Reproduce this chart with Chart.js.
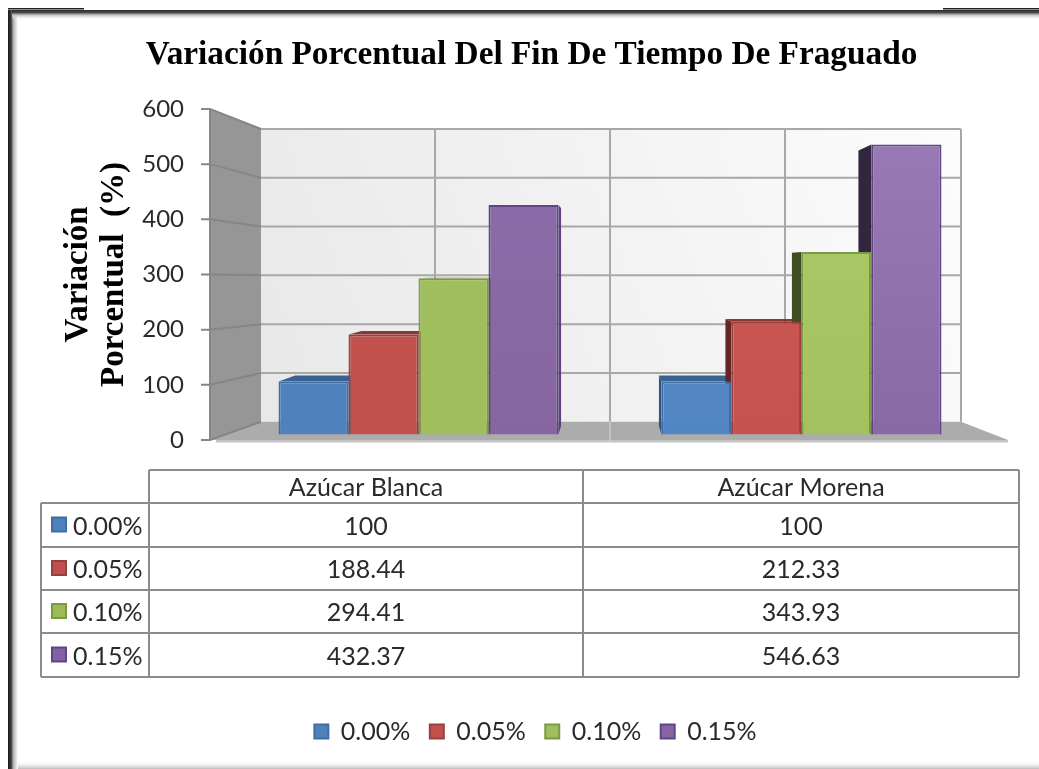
<!DOCTYPE html>
<html><head><meta charset="utf-8">
<style>html,body{margin:0;padding:0;background:#fff}canvas{display:block}</style>
<script src="https://cdn.jsdelivr.net/npm/chart.js@4"></script>
</head><body><canvas id="c" width="1039" height="769"></canvas>
<script>
const categories = ['Azúcar Blanca', 'Azúcar Morena'];
const seriesNames = ['0.00%', '0.05%', '0.10%', '0.15%'];
const values000 = [100, 100];
const values005 = [188.44, 212.33];
const values010 = [294.41, 343.93];
const values015 = [432.37, 546.63];
const allValues = [values000, values005, values010, values015];
const titleText = 'Variación Porcentual Del Fin De Tiempo De Fraguado';
const axisTitle = ['Variación', 'Porcentual  (%)'];
const baseColors = ['#4f81bd', '#c0504d', '#9bbb59', '#8064a2'];
const borderColors = ['#3f6ea5', '#98403d', '#7b9a45', '#604583'];
const topGroup = [['#4f81bf','#4f81bd'],['#c5534f','#c2514e'],['#a0bf5c','#a0bf5c'],['#8e6dac','#8665a2']];
const topGroup2 = [['#5a8cca','#5285c4'],['#d05c58','#c6524f'],['#adcb69','#a3c25f'],['#9b7ab8','#8968a6']];
const topFace = ['#3a6290', '#8a3735', '#6e8a3c', '#5a4078'];
const sideFace = [['#39608c','#2f5480'],['#7a2e2c','#642624'],['#5c7430','#3f4d20'],['#5b427f','#32263f']];
const FONT = 'Lato';
const SERIF = '"Liberation Serif"';

const GAP = 0.05, VPX = 610, VPY = 265;

const scene = {
  id: 'scene',
  afterLayout(chart) {
    chart.legend.left += 4; chart.legend.right += 4;
  },
  beforeDraw(chart) {
    const c = chart.ctx;
    c.save();
    c.fillStyle = '#fff'; c.fillRect(0, 0, 1039, 769);
    // page frame
    let g = c.createLinearGradient(8, 0, 18, 0);
    g.addColorStop(0, '#1a1a1a'); g.addColorStop(0.3, '#3a3a3a'); g.addColorStop(0.55, '#b5b5b5'); g.addColorStop(1, '#ffffff');
    c.fillStyle = g; c.fillRect(8, 10, 10, 759);
    g = c.createLinearGradient(0, 10, 0, 20);
    g.addColorStop(0, '#2a2a2a'); g.addColorStop(0.25, '#4a4a4a'); g.addColorStop(0.5, '#c0c0c0'); g.addColorStop(1, 'rgba(255,255,255,0)');
    c.fillStyle = g; c.fillRect(12, 10, 1027, 10);
    c.fillStyle = '#222';
    c.fillRect(8, 8, 76, 1.5); c.fillRect(943, 8, 96, 1.5);
    g = c.createLinearGradient(0, 761, 0, 769);
    g.addColorStop(0, 'rgba(255,255,255,0)'); g.addColorStop(1, '#bdbdbd');
    c.fillStyle = g; c.fillRect(18, 761, 1021, 8);
    c.restore();
  },
  beforeDatasetsDraw(chart) {
    const c = chart.ctx, y = chart.scales.y;
    const wL = 261, wR = 961, fL = 210, fR = 1008;
    const bk = v => { const p = y.getPixelForValue(v); return p + 0.1155 * (282 - p); };
    const f0 = y.getPixelForValue(0), f6 = y.getPixelForValue(600), b0 = bk(0), b6 = bk(600);
    c.save();
    // side wall
    c.fillStyle = '#969696';
    c.beginPath(); c.moveTo(fL, f6); c.lineTo(wL, b6); c.lineTo(wL, b0); c.lineTo(fL, f0); c.closePath(); c.fill();
    // back wall
    const g = c.createLinearGradient(wL, b0, wR, b6);
    g.addColorStop(0, '#e8e8e8'); g.addColorStop(1, '#fcfcfc');
    c.fillStyle = g; c.fillRect(wL, b6, wR - wL, b0 - b6);
    // floor
    c.fillStyle = '#acacac';
    c.beginPath(); c.moveTo(fL, f0); c.lineTo(wL, b0); c.lineTo(wR, b0); c.lineTo(fR, f0); c.closePath(); c.fill();
    c.fillStyle = '#c4c4c4'; c.fillRect(fL + 6, f0, fR - fL - 6, 2.5);
    // grid
    c.lineWidth = 2;
    y.ticks.forEach(t => {
      const p = y.getPixelForValue(t.value), q = bk(t.value);
      c.strokeStyle = '#868686';
      c.beginPath(); c.moveTo(201, p); c.lineTo(fL, p); c.lineTo(wL, q); c.stroke();
      if (t.value > 0) { c.strokeStyle = '#a8a8a8'; c.beginPath(); c.moveTo(wL, q); c.lineTo(wR, q); c.stroke(); }
    });
    c.strokeStyle = '#a8a8a8';
    [wL + 174, wL + 349, wL + 524, wR].forEach(x => { c.beginPath(); c.moveTo(x, b6); c.lineTo(x, b0); c.stroke(); });
    c.strokeStyle = '#868686';
    c.beginPath(); c.moveTo(fL, f6); c.lineTo(fL, f0); c.stroke();
    c.strokeStyle = '#d8d8d8'; c.lineWidth = 1;
    c.beginPath(); c.moveTo(wL + 349, b0); c.lineTo(wL + 349, f0 + 2); c.stroke();
    // bar depth faces
    chart.data.datasets.forEach((ds, di) => {
      chart.getDatasetMeta(di).data.forEach((el, i) => {
        const p = el.getProps(['x', 'y', 'base', 'width'], true);
        const xl = p.x - p.width / 2, xr = p.x + p.width / 2;
        const back = (x, yy) => [x + GAP * (VPX - x), yy + GAP * (VPY - yy)];
        const poly = (pts, col) => { c.fillStyle = col; c.beginPath(); pts.forEach((q, k) => k ? c.lineTo(q[0], q[1]) : c.moveTo(q[0], q[1])); c.closePath(); c.fill(); };
        if (p.y > VPY) poly([[xl, p.y], [xr, p.y], back(xr, p.y), back(xl, p.y)], topFace[di]);
        if (xl > VPX) poly([[xl, p.y], back(xl, p.y), back(xl, p.base), [xl, p.base]], sideFace[di][1]);
        if (xr < VPX) poly([[xr, p.y], back(xr, p.y), back(xr, p.base), [xr, p.base]], sideFace[di][0]);
      });
    });
    c.restore();
  },
  afterDraw(chart) {
    const c = chart.ctx;
    const rows = [503, 547, 590, 633, 677], xA = 41, xB = 149, xC = 583, xD = 1019, top = 470;
    c.save();
    c.strokeStyle = '#8c8c8c'; c.lineWidth = 2;
    c.beginPath();
    c.moveTo(xB, top); c.lineTo(xD, top);
    rows.forEach(r => { c.moveTo(xA, r); c.lineTo(xD, r); });
    c.moveTo(xA, rows[0]); c.lineTo(xA, rows[4]);
    c.moveTo(xB, top); c.lineTo(xB, rows[4]);
    c.moveTo(xC, top); c.lineTo(xC, rows[4]);
    c.moveTo(xD, top); c.lineTo(xD, rows[4]);
    c.stroke();
    c.font = '25px ' + FONT; c.fillStyle = '#2a2a2a'; c.textBaseline = 'middle'; c.textAlign = 'center';
    const cols = [(xB + xC) / 2, (xC + xD) / 2];
    categories.forEach((cat, i) => c.fillText(cat, cols[i], (top + rows[0]) / 2 + 1));
    seriesNames.forEach((name, s) => {
      const cy = (rows[s] + rows[s + 1]) / 2 + 1.5;
      c.fillStyle = baseColors[s]; c.strokeStyle = borderColors[s]; c.lineWidth = 2;
      c.fillRect(52, cy - 9, 14, 14); c.strokeRect(52, cy - 9, 14, 14);
      c.fillStyle = '#2a2a2a'; c.textAlign = 'left';
      c.fillText(name, 73, cy);
      c.textAlign = 'center';
      allValues[s].forEach((v, i) => c.fillText(String(v), cols[i], cy));
    });
    c.restore();
  }
};

function fillFor(s) {
  return ctx => {
    if (ctx.type !== 'data' || !ctx.chart.chartArea) return baseColors[s];
    const a = ctx.chart.chartArea, pair = (ctx.dataIndex === 0 ? topGroup : topGroup2)[s];
    const g = ctx.chart.ctx.createLinearGradient(0, a.top, 0, a.bottom);
    g.addColorStop(0, pair[0]); g.addColorStop(1, pair[1]);
    return g;
  };
}

new Chart(document.getElementById('c'), {
  type: 'bar',
  plugins: [scene],
  data: {
    labels: categories,
    datasets: seriesNames.map((name, s) => ({
      label: name,
      data: allValues[s],
      yAxisID: 'yBar',
      backgroundColor: fillFor(s),
      borderColor: borderColors[s],
      borderWidth: 2,
      barPercentage: 1,
      categoryPercentage: 0.731
    }))
  },
  options: {
    responsive: false,
    animation: false,
    layout: { padding: { left: 70, right: 46, top: 0, bottom: 15 } },
    plugins: {
      tooltip: { enabled: false },
      title: {
        display: true, text: titleText, color: '#000',
        font: { family: SERIF, size: 33.3, weight: 'bold', lineHeight: 1.2 },
        padding: { top: 35, bottom: 34 }
      },
      legend: {
        position: 'bottom',
        labels: {
          boxWidth: 14, boxHeight: 14, padding: 19.5, color: '#2a2a2a',
          font: { family: FONT, size: 25 }
        }
      }
    },
    scales: {
      x: {
        ticks: { display: false }, grid: { display: false }, border: { display: false },
        afterFit(s) { s.height = 259.5; }
      },
      y: {
        position: 'left', min: 0, max: 600,
        ticks: { stepSize: 100, padding: 43, color: '#2a2a2a', font: { family: FONT, size: 24 } },
        grid: { display: false, drawTicks: false }, border: { display: false },
        title: {
          display: true, text: axisTitle, color: '#000',
          font: { family: SERIF, size: 33, weight: 'bold', lineHeight: 1.12 },
          padding: { top: -10.5, bottom: 0 }
        },
        afterFit(s) { s.width = 157; }
      },
      yBar: { display: false, position: 'left', min: -10.4, max: 613.6 }
    }
  }
});
</script></body></html>
